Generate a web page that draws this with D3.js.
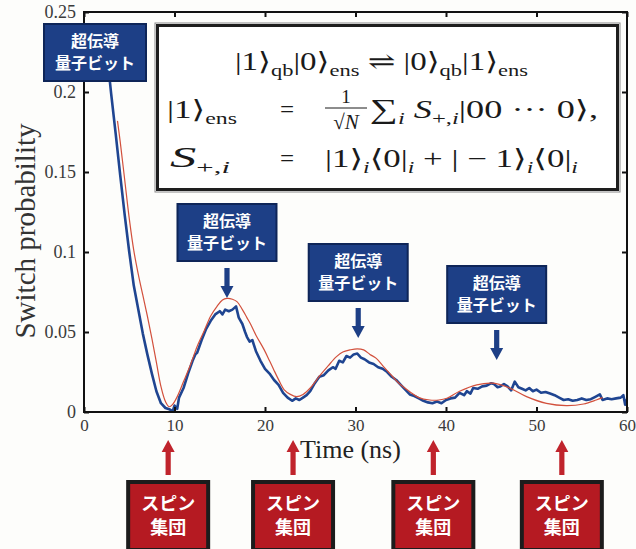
<!DOCTYPE html>
<html>
<head>
<meta charset="utf-8">
<script src="https://cdn.jsdelivr.net/npm/d3@7"></script>
<style>
  html, body { margin: 0; padding: 0; background: #fdfdfb; }
  svg { display: block; }
</style>
</head>
<body>
<svg id="chart" width="636" height="549"></svg>
<script>
// Measured switch probability (time in ns, probability)
const measured = [
  [2.3,0.236],[2.5,0.226],[3.0,0.199],[3.5,0.174],[4.0,0.148],[4.5,0.123],
  [5.0,0.100],[5.5,0.079],[6.0,0.064],[6.5,0.049],[7.0,0.036],[7.5,0.024],[8.0,0.013],
  [8.5,0.0055],[9.0,0.0025],[9.5,0.0015],[9.8,0.0005],[10.0,0.004],[10.3,0.002],[10.5,0.009],
  [11.0,0.015],[11.5,0.024],[12.0,0.032],[12.3,0.036],[12.5,0.037],[13.0,0.045],[13.5,0.052],
  [14.0,0.057],[14.5,0.061],[15.0,0.063],[15.3,0.061],[15.6,0.064],[16.0,0.063],[16.4,0.064],
  [16.8,0.066],[17.1,0.059],[17.5,0.055],[17.8,0.050],[18.0,0.047],[18.3,0.044],[18.6,0.045],
  [19.0,0.038],[19.5,0.032],[20.0,0.027],[20.5,0.024],[21.0,0.020],[21.5,0.017],[22.0,0.012],
  [22.5,0.009],[23.0,0.007],[23.4,0.0085],[23.8,0.0075],[24.2,0.009],[24.6,0.0105],[25.0,0.013],
  [25.5,0.018],[26.0,0.022],[26.5,0.023],[27.0,0.026],[27.5,0.028],[27.8,0.027],[28.2,0.032],
  [28.6,0.031],[29.0,0.035],[29.4,0.034],[29.8,0.036],[30.2,0.0365],[30.6,0.034],[31.0,0.033],
  [31.5,0.031],[32.0,0.030],[32.5,0.028],[33.0,0.027],[33.5,0.025],[34.0,0.022],[34.5,0.020],
  [35.0,0.017],[35.5,0.014],[36.0,0.011],[36.5,0.010],[37.0,0.0085],[37.5,0.007],[38.0,0.006],
  [38.5,0.0055],[39.0,0.0065],[39.5,0.0055],[40.0,0.0075],[40.5,0.0085],[41.0,0.009],[41.5,0.012],
  [42.0,0.0105],[42.3,0.013],[42.7,0.0115],[43.0,0.015],[43.5,0.0145],[44.0,0.016],[44.5,0.0165],
  [45.0,0.018],[45.3,0.0175],[45.7,0.0155],[46.0,0.016],[46.4,0.0175],[46.8,0.016],[47.2,0.0135],
  [47.6,0.019],[48.0,0.0155],[48.4,0.0145],[48.8,0.0135],[49.2,0.015],[49.6,0.013],[50.0,0.014],
  [50.5,0.012],[51.0,0.0125],[51.5,0.0115],[52.0,0.0105],[52.5,0.009],[53.0,0.0075],[53.5,0.008],
  [54.0,0.0070],[54.5,0.0075],[55.0,0.0085],[55.5,0.0075],[56.0,0.008],[56.5,0.0095],[57.0,0.0110],
  [57.3,0.0075],[57.8,0.0085],[58.3,0.0080],[58.8,0.0085],[59.3,0.0090],[59.6,0.0105],[59.8,0.0045],
  [60.0,0.0080]
];

// Damped-oscillation fit to the measurement
const fit = [
  [3.7,0.182],[4.0,0.169],[4.5,0.145],[5.0,0.121],[5.5,0.101],[6.0,0.086],[6.5,0.073],
  [7.0,0.060],[7.5,0.046],[8.0,0.031],[8.5,0.016],[9.0,0.0065],[9.4,0.0033],[9.8,0.0048],
  [10.3,0.0096],[11.0,0.019],[11.8,0.030],[12.5,0.041],[13.3,0.051],[14.0,0.060],[14.7,0.066],
  [15.3,0.070],[15.8,0.071],[16.4,0.0705],[16.9,0.069],[17.5,0.064],[18.0,0.059],[18.4,0.055],
  [19.0,0.048],[19.9,0.039],[20.5,0.032],[21.0,0.026],[21.7,0.018],[22.1,0.014],[22.8,0.011],
  [23.5,0.0096],[24.2,0.011],[25.0,0.015],[26.1,0.023],[27.0,0.029],[27.9,0.0346],[28.6,0.0375],
  [29.4,0.0388],[30.2,0.0395],[30.9,0.0388],[31.6,0.036],[32.3,0.0335],[33.0,0.029],[33.8,0.024],
  [34.8,0.018],[36.0,0.0127],[37.0,0.009],[38.2,0.0075],[39.2,0.0075],[40.1,0.0086],[41.5,0.013],
  [43.4,0.017],[45.2,0.018],[47.1,0.0148],[48.9,0.0096],[51.1,0.0054],[53.3,0.004],[55.2,0.005],
  [56.6,0.0075],[57.3,0.009]
];

const xTicks = [0, 10, 20, 30, 40, 50, 60];
const yTicks = [0, 0.05, 0.1, 0.15, 0.2, 0.25];
const yTickLabels = ["0", "0.05", "0.1", "0.15", "0.2", "0.25"];
const xLabel = "Time (ns)";
const yLabel = "Switch probability";

// Where the qubit (peaks) and spin-ensemble (troughs) annotations point
const qubitTimes = [15.8, 30.3, 45.6];
const spinTimes = [9.3, 23.1, 38.6, 52.8];
const qubitText = ["超伝導", "量子ビット"];
const spinText = ["スピン", "集団"];

const svg = d3.select("#chart");
const x = d3.scaleLinear().domain([0, 60]).range([84, 627]);
const y = d3.scaleLinear().domain([0, 0.25]).range([412, 12]);
const serif = "'Liberation Serif', 'DejaVu Serif', serif";
const cjk = "'Noto Sans CJK JP', sans-serif";

svg.append("rect").attr("width", 636).attr("height", 549).attr("fill", "#fdfdfb");

// clip for the data lines
svg.append("defs").append("clipPath").attr("id", "plotclip")
  .append("rect").attr("x", 84).attr("y", 12).attr("width", 543).attr("height", 400);

const line = d3.line().x(d => x(d[0])).y(d => y(d[1]));

svg.append("path").datum(measured)
  .attr("clip-path", "url(#plotclip)")
  .attr("d", line.curve(d3.curveLinear))
  .attr("fill", "none").attr("stroke", "#1f4591").attr("stroke-width", 2.6)
  .attr("stroke-linejoin", "round");

svg.append("path").datum(fit)
  .attr("clip-path", "url(#plotclip)")
  .attr("d", d3.line().x(d => x(d[0])).y(d => y(d[1])).curve(d3.curveCatmullRom)(fit))
  .attr("fill", "none").attr("stroke", "#d2503c").attr("stroke-width", 1.2);

// axes: ticks point into the frame
const tickStyle = g => {
  g.select(".domain").remove();
  g.selectAll(".tick line").attr("stroke", "#111").attr("stroke-width", 2);
  g.selectAll(".tick text").attr("font-family", serif).attr("font-size", 18).attr("fill", "#3a3a3a");
};
svg.append("g").attr("transform", "translate(0,412)")
  .call(d3.axisBottom(x).tickValues(xTicks).tickSize(-5).tickPadding(7).tickFormat(d3.format("d")))
  .call(tickStyle)
  .call(g => g.selectAll(".tick text").attr("font-size", 17));
svg.append("g").attr("transform", "translate(0,12)")
  .call(d3.axisTop(x).tickValues(xTicks).tickSize(-5).tickFormat(""))
  .call(tickStyle);
svg.append("g").attr("transform", "translate(84,0)")
  .call(d3.axisLeft(y).tickValues(yTicks).tickSize(-5).tickPadding(8)
    .tickFormat((d, i) => yTickLabels[i]))
  .call(tickStyle);
svg.append("g").attr("transform", "translate(627,0)")
  .call(d3.axisRight(y).tickValues(yTicks).tickSize(-5).tickFormat(""))
  .call(tickStyle);

svg.append("rect").attr("x", x(0)).attr("y", y(0.25))
  .attr("width", x(60) - x(0)).attr("height", y(0) - y(0.25))
  .attr("fill", "none").attr("stroke", "#111").attr("stroke-width", 2);

// axis titles
svg.append("text").attr("x", 300).attr("y", 458)
  .attr("font-family", serif).attr("font-size", 26).attr("fill", "#222").text(xLabel);
svg.append("text").attr("transform", "translate(35,231) rotate(-90)")
  .attr("text-anchor", "middle")
  .attr("font-family", serif).attr("font-size", 29).attr("fill", "#333").text(yLabel);

// equation box
const eq = svg.append("g");
eq.append("rect").attr("x", 155).attr("y", 23).attr("width", 465).attr("height", 169)
  .attr("fill", "#fff").attr("stroke", "#8a8a8a").attr("stroke-width", 1);
eq.append("rect").attr("x", 157.5).attr("y", 25.5).attr("width", 460).attr("height", 164)
  .attr("fill", "none").attr("stroke", "#1e1e1e").attr("stroke-width", 3);

function mathText(parent, px, py, parts, opts) {
  const t = parent.append("text").attr("x", px).attr("y", py)
    .attr("font-family", serif).attr("font-size", 25).attr("fill", "#1a1a1a");
  if (opts && opts.anchor) t.attr("text-anchor", opts.anchor);
  let shift = 0;
  parts.forEach(p => {
    const s = t.append("tspan").text(p.t);
    const target = p.sub ? 6 : 0;
    if (target !== shift) { s.attr("dy", target - shift); shift = target; }
    if (p.sub) s.attr("font-size", 17);
    if (p.it) s.attr("font-style", "italic");
    if (p.size) s.attr("font-size", p.size);
  });
  if (opts && opts.width) t.attr("textLength", opts.width).attr("lengthAdjust", "spacingAndGlyphs");
  return t;
}

mathText(eq, 235, 70, [
  {t: "|1⟩"}, {t: "qb", sub: 1}, {t: "|0⟩"}, {t: "ens", sub: 1}, {t: " ⇌ "},
  {t: "|0⟩"}, {t: "qb", sub: 1}, {t: "|1⟩"}, {t: "ens", sub: 1}
], {width: 293});

mathText(eq, 167, 118, [{t: "|1⟩"}, {t: "ens", sub: 1}], {width: 70});
mathText(eq, 287, 118, [{t: "="}], {anchor: "middle"});
mathText(eq, 346, 103, [{t: "1", size: 19}], {anchor: "middle"});
eq.append("line").attr("x1", 325).attr("x2", 367).attr("y1", 108).attr("y2", 108)
  .attr("stroke", "#1a1a1a").attr("stroke-width", 1);
mathText(eq, 346, 129, [{t: "√", size: 21}, {t: "N", it: 1, size: 21}], {anchor: "middle"});
mathText(eq, 370, 118, [
  {t: "∑", size: 27}, {t: "i", sub: 1, it: 1}, {t: " "}, {t: "S", it: 1}, {t: "+,", sub: 1},
  {t: "i", sub: 1, it: 1}, {t: "|00 ··· 0⟩,"}
], {width: 228});

mathText(eq, 170, 167, [{t: "S", it: 1, size: 29}, {t: "+,", sub: 1}, {t: "i", sub: 1, it: 1}], {width: 60});
mathText(eq, 287, 167, [{t: "="}], {anchor: "middle"});
mathText(eq, 325, 167, [
  {t: "|1⟩"}, {t: "i", sub: 1, it: 1}, {t: "⟨0|"}, {t: "i", sub: 1, it: 1}, {t: " + | − 1⟩"},
  {t: "i", sub: 1, it: 1}, {t: "⟨0|"}, {t: "i", sub: 1, it: 1}
], {width: 253});

// annotation boxes
function labelBox(cx, top, w, h, lines, fill, border, bw, fs, gap) {
  const g = svg.append("g");
  g.append("rect").attr("x", cx - w / 2).attr("y", top).attr("width", w).attr("height", h)
    .attr("fill", border);
  g.append("rect").attr("x", cx - w / 2 + bw).attr("y", top + bw)
    .attr("width", w - 2 * bw).attr("height", h - 2 * bw).attr("fill", fill);
  lines.forEach((s, i) => {
    g.append("text").attr("x", cx).attr("y", top + h / 2 + (i - 0.5) * gap + fs * 0.36)
      .attr("text-anchor", "middle").attr("font-family", cjk).attr("font-weight", 700)
      .attr("font-size", fs).attr("fill", "#fff").text(s);
  });
}
function arrow(cx, y0, y1, color, down) {
  const head = 12, hw = 6.5, sw = 2.6;
  const tip = down ? y1 : y0, base = down ? y1 - head : y0 + head, tail = down ? y0 : y1;
  svg.append("path")
    .attr("d", `M${cx - sw},${tail} L${cx - sw},${base} L${cx - hw},${base} L${cx},${tip} L${cx + hw},${base} L${cx + sw},${base} L${cx + sw},${tail} Z`)
    .attr("fill", color);
}

const navy = "#1d3f86", navyEdge = "#0e2558";
labelBox(95, 23, 104, 59, qubitText, navy, navyEdge, 2, 16, 22);
const qubitTops = [203, 243, 265];
qubitTimes.forEach((t, i) => {
  const cx = x(t), top = qubitTops[i];
  labelBox(cx, top, 101, 59, qubitText, navy, navyEdge, 2, 16, 22);
  arrow(cx, top + 65, top + 95, "#1d3f86", true);
});

spinTimes.forEach(t => {
  const cx = x(t);
  arrow(cx, 440, 475, "#c0242c", false);
  labelBox(cx, 480, 84, 72, spinText, "#b51a22", "#1c1c1c", 4, 18, 24);
});
</script>
</body>
</html>
